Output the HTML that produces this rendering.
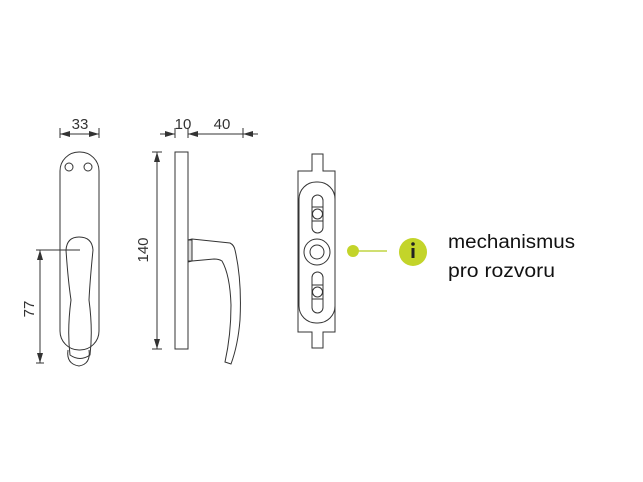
<!DOCTYPE html>
<html><head><style>body{margin:0;background:#fff}svg{display:block}</style></head><body>
<svg width="643" height="482" viewBox="0 0 643 482" xmlns="http://www.w3.org/2000/svg" font-family="Liberation Sans, sans-serif">
<defs><marker id="a" viewBox="0 0 10 6" refX="10" refY="3" markerWidth="10" markerHeight="6" orient="auto-start-reverse" markerUnits="userSpaceOnUse"><path d="M0,0L10,3L0,6z" fill="#333"/></marker></defs>
<g fill="none" stroke="#333" stroke-width="1">
<rect x="60" y="152" width="39" height="198" rx="19"/>
<circle cx="69" cy="167" r="4"/><circle cx="88" cy="167" r="4"/>
<path d="M68,350 Q66,364 79,366 Q91,364 89,350"/>
<path d="M79,237 Q92,237 93,250 Q90,280 89,300 Q93,330 90,355 Q80,362 70,355 Q67,330 71,300 Q68,280 66,250 Q67,237 79,237Z"/>
<line x1="60" y1="128" x2="60" y2="138"/><line x1="99" y1="128" x2="99" y2="138"/>
<line x1="60" y1="134" x2="99" y2="134" marker-start="url(#a)" marker-end="url(#a)"/>
<line x1="36" y1="250" x2="80" y2="250"/>
<line x1="40" y1="250" x2="40" y2="363" marker-start="url(#a)" marker-end="url(#a)"/>
<line x1="36" y1="363" x2="44" y2="363"/>
<rect x="175" y="152" width="13" height="197"/>
<line x1="152" y1="152" x2="162" y2="152"/><line x1="152" y1="349" x2="162" y2="349"/>
<line x1="157" y1="152" x2="157" y2="349" marker-start="url(#a)" marker-end="url(#a)"/>
<line x1="175" y1="128" x2="175" y2="138"/><line x1="188" y1="128" x2="188" y2="138"/><line x1="243" y1="128" x2="243" y2="138"/>
<line x1="160" y1="134" x2="175" y2="134" marker-end="url(#a)"/>
<line x1="188" y1="134" x2="243" y2="134" marker-start="url(#a)"/>
<line x1="243" y1="134" x2="258" y2="134" marker-start="url(#a)"/>
<path d="M188,240 L192,239 L230,243 Q234,245 235,250 Q242,280 240,320 Q238,345 231,364 L225,362 Q231,335 231,305 Q230,275 222,261 Q219,259 214,259 L192,261 L188,262"/>
<rect x="188" y="240" width="4" height="21" fill="#ddd"/>
<path d="M298,171 H312 V154 H323 V171 H335 V332 H323 V348 H312 V332 H298 Z"/>
<rect x="299" y="182" width="36" height="141" rx="17"/>
<rect x="312" y="195" width="11" height="38" rx="5.5"/>
<rect x="312" y="272" width="11" height="41" rx="5.5"/>
<line x1="312" y1="207" x2="323" y2="207"/><line x1="312" y1="221" x2="323" y2="221"/><circle cx="317.5" cy="214" r="5"/>
<line x1="312" y1="285" x2="323" y2="285"/><line x1="312" y1="299" x2="323" y2="299"/><circle cx="317.5" cy="292" r="5"/>
<circle cx="317" cy="252" r="13"/><circle cx="317" cy="252" r="7"/>
</g>
<g fill="#333" font-size="15">
<text x="80" y="129" text-anchor="middle">33</text>
<text x="183" y="129" text-anchor="middle">10</text>
<text x="222" y="129" text-anchor="middle">40</text>
<text transform="translate(148,250) rotate(-90)" text-anchor="middle">140</text>
<text transform="translate(34,309) rotate(-90)" text-anchor="middle">77</text>
</g>
<line x1="353" y1="251" x2="387" y2="251" stroke="#b5cc1c" stroke-width="1.2"/>
<circle cx="353" cy="251" r="6" fill="#c3d42a"/>
<circle cx="413" cy="252" r="14" fill="#c3d42a"/>
<circle cx="413" cy="244" r="1.8" fill="#222"/>
<rect x="411.5" y="248" width="3" height="10" fill="#222"/>
<g font-size="19" fill="#111">
<text x="448" y="248" textLength="127" lengthAdjust="spacingAndGlyphs">mechanismus</text>
<text x="448" y="277" textLength="107" lengthAdjust="spacingAndGlyphs">pro rozvoru</text>
</g>
</svg>
</body></html>
